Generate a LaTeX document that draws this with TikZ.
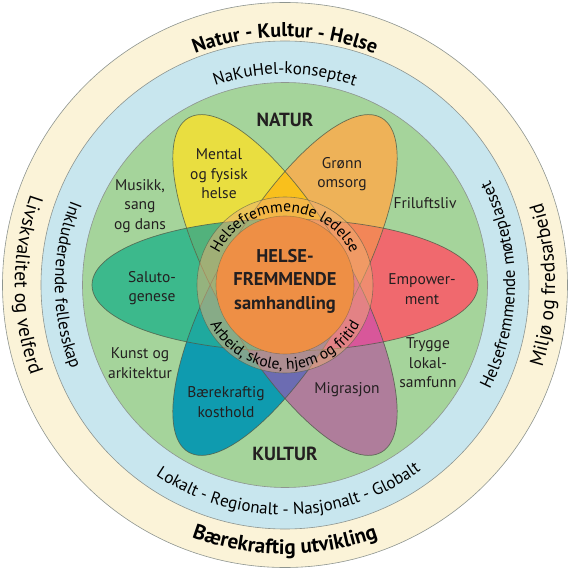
\documentclass[tikz,border=0pt]{standalone}
\usepackage{fontspec}
\setmainfont{PT Sans}
\usetikzlibrary{decorations.text}
\definecolor{cBeige}{HTML}{FBF3D8}
\definecolor{cBlue}{HTML}{C8E6EE}
\definecolor{cGreenD}{HTML}{A5D49B}
\definecolor{cYellow}{HTML}{E9DE40}
\definecolor{cOrange}{HTML}{EEB258}
\definecolor{cRed}{HTML}{F0696E}
\definecolor{cPurple}{HTML}{AF7D9B}
\definecolor{cTeal}{HTML}{0F9BAF}
\definecolor{cGreenP}{HTML}{3CB98C}
\definecolor{cYO}{HTML}{F9C01C}
\definecolor{cOR}{HTML}{F28658}
\definecolor{cRP}{HTML}{D8579A}
\definecolor{cPT}{HTML}{6C6CB2}
\definecolor{cTG}{HTML}{1FA99E}
\definecolor{cGY}{HTML}{52B27C}
\definecolor{cCenter}{HTML}{EE8F45}
\definecolor{cRing}{HTML}{EFAE72}
\definecolor{cLine}{HTML}{4F5A48}
\definecolor{cGrey}{HTML}{8E9590}
\definecolor{cText}{HTML}{231F20}
\newcommand\halfclip[3]{%
  \clip[rotate=#1] (0,0) ellipse [x radius=193pt, y radius=66pt];
  \clip[rotate=#1] (#2,-330) rectangle (#3,330);}
\tikzset{
  petalline/.style={draw=cLine, line width=0.7pt, draw opacity=0.8},
  ringline/.style={draw=cGrey, line width=0.6pt},
  lbl/.style={font=\fontsize{15.5}{19.5}\selectfont, align=center, inner sep=0pt, text=cText},
  headlbl/.style={font=\fontsize{19}{19}\selectfont\bfseries, inner sep=0pt, text=cText},
  centerlbl/.style={font=\fontsize{18.5}{23.5}\selectfont\bfseries, align=center, inner sep=0pt, text=cText},
}
\begin{document}
\begin{tikzpicture}[x=1pt,y=1pt]
\useasboundingbox (-285,-285) rectangle (285,285);
\fill[white] (-285,-285) rectangle (285,285);
% rings
\fill[cBeige] (0,0) circle[radius=282.5pt];
\draw[ringline] (0,0) circle[radius=282.5pt];
\fill[cBlue] (0,0) circle[radius=244pt];
\draw[ringline] (0,0) circle[radius=244pt];
\fill[cGreenD] (0,0) circle[radius=202.5pt];
\draw[ringline] (0,0) circle[radius=202.5pt];
% half petals
\begin{scope}\halfclip{0}{-330}{0}\fill[cGreenP] (-300,-300) rectangle (300,300);\end{scope}
\begin{scope}\halfclip{0}{0}{330}\fill[cRed] (-300,-300) rectangle (300,300);\end{scope}
\begin{scope}\halfclip{60}{0}{330}\fill[cOrange] (-300,-300) rectangle (300,300);\end{scope}
\begin{scope}\halfclip{60}{-330}{0}\fill[cTeal] (-300,-300) rectangle (300,300);\end{scope}
\begin{scope}\halfclip{120}{0}{330}\fill[cYellow] (-300,-300) rectangle (300,300);\end{scope}
\begin{scope}\halfclip{120}{-330}{0}\fill[cPurple] (-300,-300) rectangle (300,300);\end{scope}
% overlaps
\begin{scope}\halfclip{120}{0}{330}\halfclip{60}{0}{330}\fill[cYO] (-300,-300) rectangle (300,300);\end{scope}
\begin{scope}\halfclip{60}{0}{330}\halfclip{0}{0}{330}\fill[cOR] (-300,-300) rectangle (300,300);\end{scope}
\begin{scope}\halfclip{0}{0}{330}\halfclip{120}{-330}{0}\fill[cRP] (-300,-300) rectangle (300,300);\end{scope}
\begin{scope}\halfclip{120}{-330}{0}\halfclip{60}{-330}{0}\fill[cPT] (-300,-300) rectangle (300,300);\end{scope}
\begin{scope}\halfclip{60}{-330}{0}\halfclip{0}{-330}{0}\fill[cTG] (-300,-300) rectangle (300,300);\end{scope}
\begin{scope}\halfclip{0}{-330}{0}\halfclip{120}{0}{330}\fill[cGY] (-300,-300) rectangle (300,300);\end{scope}
% petal outlines
\draw[petalline] (0,0) ellipse [x radius=193pt, y radius=66pt];
\draw[petalline,rotate=60] (0,0) ellipse [x radius=193pt, y radius=66pt];
\draw[petalline,rotate=120] (0,0) ellipse [x radius=193pt, y radius=66pt];
% central ring
\fill[cRing, fill opacity=0.5, even odd rule] (0,0) circle[radius=88pt] (0,0) circle[radius=69pt];
\draw[draw=cLine, draw opacity=0.6, line width=0.6pt] (0,0) circle[radius=88pt];
\fill[cCenter] (0,0) circle[radius=69pt];
\draw[draw=cLine, draw opacity=0.4, line width=0.6pt] (0,0) circle[radius=69pt];
% labels
\node[headlbl] (natur) at (0,165) {NATUR};
\node[headlbl] (kultur) at (0,-169) {KULTUR};
\node[lbl] (mental) at (-66,111) {Mental\\og fysisk\\helse};
\node[lbl] (gronn) at (57,111) {Grønn\\omsorg};
\node[lbl] (musikk) at (-145,79) {Musikk,\\sang\\og dans};
\node[lbl] (friluft) at (140,82) {Friluftsliv};
\node[lbl] (saluto) at (-133,-3) {Saluto-\\genese};
\node[lbl] (empower) at (137,-4) {Empower-\\ment};
\node[lbl] (kunst) at (-145,-78) {Kunst og\\arkitektur};
\node[lbl] (trygge) at (143,-78) {Trygge\\lokal-\\samfunn};
\node[lbl] (kosthold) at (-59,-117) {Bærekraftig\\kosthold};
\node[lbl] (migrasjon) at (62,-105) {Migrasjon};
\node[centerlbl] (center) at (0,4) {HELSE-\\FREMMENDE\\samhandling};
% inner ring texts
\path[decorate, decoration={text along path, text align=center,
  text={|\fontsize{15.5}{15.5}\selectfont|Helsefremmende ledelse}}]
  (180:73pt) arc[start angle=180, end angle=0, radius=73pt];
\path[decorate, decoration={text along path, text align=center,
  text={|\fontsize{15.5}{15.5}\selectfont|Arbeid, skole, hjem og fritid}}]
  (180:84.5pt) arc[start angle=180, end angle=360, radius=84.5pt];
% blue ring texts
\path[decorate, decoration={text along path, text align=center,
  text={|\fontsize{17}{17}\selectfont|NaKuHel-konseptet}}]
  (170:211pt) arc[start angle=170, end angle=10, radius=211pt];
\path[decorate, decoration={text along path, text align=center,
  text={|\fontsize{17}{17}\selectfont|Lokalt - Regionalt - Nasjonalt - Globalt}}]
  (191:230pt) arc[start angle=191, end angle=351, radius=230pt];
\path[decorate, decoration={text along path, text align=center,
  text={|\fontsize{17}{17}\selectfont|Inkluderende fellesskap}}]
  (110:230pt) arc[start angle=110, end angle=250, radius=230pt];
\path[decorate, decoration={text along path, text align=center,
  text={|\fontsize{17}{17}\selectfont|Helsefremmende møteplasset}}]
  (-70:230pt) arc[start angle=-70, end angle=70, radius=230pt];
% beige ring texts
\path[decorate, decoration={text along path, text align=center,
  text={|\fontsize{20}{20}\selectfont\bfseries|Natur - Kultur - Helse}}]
  (170:248pt) arc[start angle=170, end angle=10, radius=248pt];
\path[decorate, decoration={text along path, text align=center,
  text={|\fontsize{21}{21}\selectfont\bfseries|Bærekraftig utvikling}}]
  (195:269pt) arc[start angle=195, end angle=345, radius=269pt];
\path[decorate, decoration={text along path, text align=center,
  text={|\fontsize{19.5}{19.5}\selectfont|Livskvalitet og velferd}}]
  (110:270pt) arc[start angle=110, end angle=250, radius=270pt];
\path[decorate, decoration={text along path, text align=center,
  text={|\fontsize{19.5}{19.5}\selectfont|Miljø og fredsarbeid}}]
  (-70:270pt) arc[start angle=-70, end angle=70, radius=270pt];
\end{tikzpicture}
\end{document}
